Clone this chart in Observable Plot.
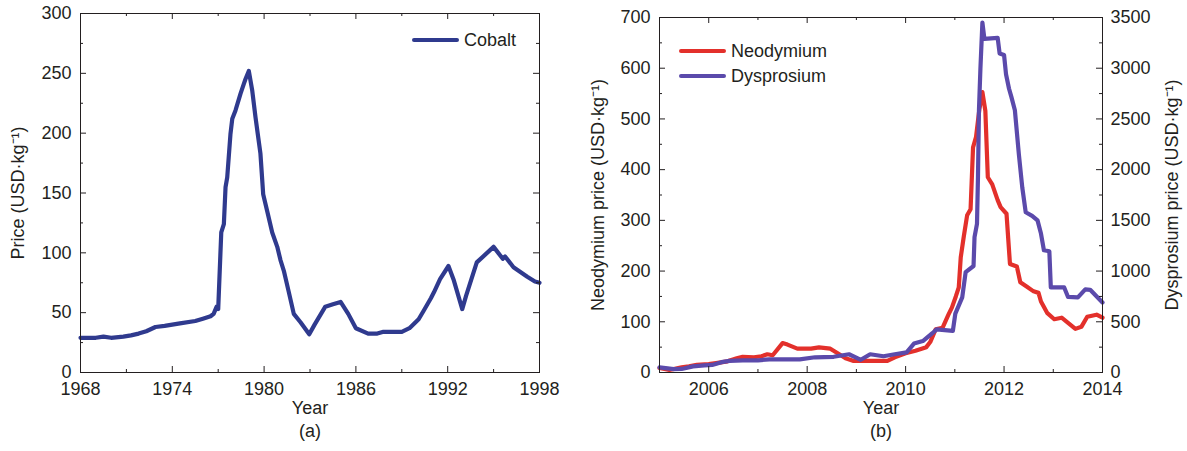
<!DOCTYPE html>
<html><head><meta charset="utf-8">
<script src="https://cdn.jsdelivr.net/npm/d3@7"></script>
<script src="https://cdn.jsdelivr.net/npm/@observablehq/plot@0.6"></script>
<style>
body{margin:0;background:#fff;}
#wrap{position:relative;width:1187px;height:451px;overflow:hidden;font-family:"Liberation Sans",Arial,Helvetica,sans-serif;color:#231f20;}
.panel{position:absolute;top:0;}
.leg{position:absolute;display:flex;align-items:center;font-size:18px;line-height:20px;white-space:nowrap;}
.leg .sw{display:inline-block;width:47px;height:4px;margin-right:5px;border-radius:2px;}
</style></head><body><div id="wrap"></div>
<script>
// ---- Panel (a): Cobalt ----
const cobaltYear  = [1968.0,1969.0,1969.5,1970.0,1970.8,1971.3,1971.8,1972.3,1972.9,1973.5,1974.5,1975.5,1976.0,1976.5,1976.7,1976.9,1977.0,1977.2,1977.37,1977.48,1977.59,1977.8,1977.92,1978.13,1978.46,1978.67,1978.78,1979.0,1979.22,1979.44,1979.76,1979.94,1980.2,1980.53,1980.86,1981.07,1981.29,1981.6,1981.94,1982.38,1982.95,1983.3,1984.0,1984.5,1985.0,1985.5,1986.0,1986.8,1987.4,1987.8,1989.0,1989.5,1990.1,1990.4,1990.9,1991.1,1991.5,1992.05,1992.4,1992.95,1993.2,1993.9,1995.0,1995.6,1995.75,1996.3,1997.2,1997.7,1998.0];
const cobaltPrice = [29,29,30,29,30,31,32.5,34.5,38,39,41,43,45,47,49,55,53,117,124,155,163,199,212,219,233,241,245,252,236,213,183,149,135,117,105,94,85,68,49,42,32,40,55,57,59,49,37,32.5,32.5,34,34,37,44.5,51,62,67,78,89,77,53,64,92,105,95,97,88,80,76,75];
const xTicksA = [1968,1974,1980,1986,1992,1998];
const xMinorA = [1971,1977,1983,1989,1995];
const yTicksA = [0,50,100,150,200,250,300];
const yMinorA = [25,75,125,175,225,275];

// ---- Panel (b): Neodymium & Dysprosium ----
const ndYear  = [2005.0,2005.2,2005.45,2005.6,2005.76,2006.0,2006.15,2006.38,2006.57,2006.69,2006.92,2007.07,2007.19,2007.3,2007.5,2007.6,2007.8,2008.08,2008.24,2008.47,2008.62,2008.78,2008.93,2009.63,2009.78,2010.0,2010.2,2010.42,2010.5,2010.61,2010.75,2010.87,2010.94,2011.02,2011.08,2011.12,2011.18,2011.25,2011.32,2011.37,2011.43,2011.5,2011.56,2011.62,2011.67,2011.76,2011.87,2011.93,2012.05,2012.12,2012.26,2012.33,2012.45,2012.6,2012.7,2012.75,2012.88,2013.02,2013.17,2013.3,2013.45,2013.57,2013.69,2013.88,2014.0];
const ndPrice = [9,5,10,12,15,16.5,18.5,22,28,31,30,32,36,34,58,55,47,47,49.5,47,38,28,23,23,30,38,43,50,60,85,88,114,128,150,168,227,267,310,322,444,464,520,553,516,385,371,340,326,313,214,209,178,170,160,157,140,117,105,108,98,86,90,110,114,108];
const dyYear  = [2005.0,2005.29,2005.45,2005.68,2005.91,2006.07,2006.26,2006.42,2006.69,2007.0,2007.23,2007.85,2008.16,2008.54,2008.85,2009.09,2009.28,2009.55,2009.78,2010.02,2010.17,2010.35,2010.55,2010.63,2010.96,2011.01,2011.15,2011.22,2011.38,2011.4,2011.45,2011.47,2011.49,2011.52,2011.56,2011.6,2011.87,2011.91,2012.0,2012.04,2012.1,2012.15,2012.22,2012.3,2012.37,2012.44,2012.57,2012.68,2012.75,2012.81,2012.92,2012.95,2013.22,2013.3,2013.5,2013.65,2013.75,2014.0];
const dyPrice = [50,33,35,60,70,75,102,115,120,120,130,130,150,155,180,125,180,160,180,198,285,310,390,425,410,580,740,990,1050,1335,1465,1925,2585,3000,3450,3290,3300,3145,3130,2940,2800,2715,2585,2155,1825,1580,1545,1500,1370,1205,1195,840,840,745,740,820,815,690];
const xTicksB = [2006,2008,2010,2012,2014];
const xMinorB = [2005,2007,2009,2011,2013];
const yTicksB = [0,100,200,300,400,500,600,700];       // left axis (Nd)
const yMinorB = [50,150,250,350,450,550,650];
const dyRatio = 5;                                      // right axis = left × 5 (0–3500)

const ink = "#231f20";
const cCo = "#2f3a8e", cNd = "#e3302b", cDy = "#5b4aab";
const FONT = "Liberation Sans, Arial, Helvetica, sans-serif";
const fmt = d => String(d);

function frameTicks(xMaj, xMin, yMaj, yMin, pw, ph) {
  const M = 6, m = 3;
  return [
    Plot.tickX(xMaj, {x: d => d, insetTop: ph - M, stroke: ink}),
    Plot.tickX(xMaj, {x: d => d, insetBottom: ph - M, stroke: ink}),
    Plot.tickX(xMin, {x: d => d, insetTop: ph - m, stroke: ink}),
    Plot.tickX(xMin, {x: d => d, insetBottom: ph - m, stroke: ink}),
    Plot.tickY(yMaj, {y: d => d, insetRight: pw - M, stroke: ink}),
    Plot.tickY(yMaj, {y: d => d, insetLeft: pw - M, stroke: ink}),
    Plot.tickY(yMin, {y: d => d, insetRight: pw - m, stroke: ink}),
    Plot.tickY(yMin, {y: d => d, insetLeft: pw - m, stroke: ink}),
    Plot.frame({stroke: ink, strokeWidth: 1})
  ];
}

const wrap = document.getElementById("wrap");

// Panel (a)
{
  const W = 580, H = 451, mL = 80, mR = 41, mT = 13, mB = 79;
  const pw = W - mL - mR, ph = H - mT - mB;
  const cobalt = cobaltYear.map((y, i) => ({year: y, price: cobaltPrice[i]}));
  const p = Plot.plot({
    width: W, height: H, marginLeft: mL, marginRight: mR, marginTop: mT, marginBottom: mB,
    style: {fontSize: "18px", fontFamily: FONT, color: ink, background: "white", overflow: "visible"},
    x: {domain: [1968, 1998]},
    y: {domain: [0, 300]},
    marks: [
      Plot.line(cobalt, {x: "year", y: "price", stroke: cCo, strokeWidth: 4.2, strokeLinejoin: "round"}),
      ...frameTicks(xTicksA, xMinorA, yTicksA, yMinorA, pw, ph),
      Plot.axisX(xTicksA, {tickSize: 0, tickPadding: 10, label: null, fontSize: 18, tickFormat: fmt}),
      Plot.axisY(yTicksA, {tickSize: 0, tickPadding: 9, label: null, fontSize: 18, tickFormat: fmt}),
      Plot.text(["Year"], {frameAnchor: "bottom", dy: 41, text: d => d, fontSize: 18, fill: ink, textAnchor: "middle"}),
      Plot.text(["(a)"], {frameAnchor: "bottom", dy: 64, text: d => d, fontSize: 18, fill: ink, textAnchor: "middle"}),
      Plot.text(["Price (USD·kg⁻¹)"], {frameAnchor: "left", dx: -62, rotate: -90, text: d => d, fontSize: 18, fill: ink, textAnchor: "middle"})
    ]
  });
  p.classList.add("panel"); p.style.left = "0px";
  wrap.appendChild(p);
}

// Panel (b)
{
  const W = 607, H = 451, mL = 79, mR = 85, mT = 17, mB = 79;
  const pw = W - mL - mR, ph = H - mT - mB;
  const nd = ndYear.map((y, i) => ({year: y, price: ndPrice[i]}));
  const dy = dyYear.map((y, i) => ({year: y, price: dyPrice[i] / dyRatio}));
  const p = Plot.plot({
    width: W, height: H, marginLeft: mL, marginRight: mR, marginTop: mT, marginBottom: mB,
    style: {fontSize: "18px", fontFamily: FONT, color: ink, background: "white", overflow: "visible"},
    x: {domain: [2005, 2014]},
    y: {domain: [0, 700]},
    marks: [
      Plot.line(nd, {x: "year", y: "price", stroke: cNd, strokeWidth: 4.2, strokeLinejoin: "round"}),
      Plot.line(dy, {x: "year", y: "price", stroke: cDy, strokeWidth: 4.2, strokeLinejoin: "round"}),
      ...frameTicks(xTicksB, xMinorB, yTicksB, yMinorB, pw, ph),
      Plot.axisX(xTicksB, {tickSize: 0, tickPadding: 10, label: null, fontSize: 18, tickFormat: fmt}),
      Plot.axisY(yTicksB, {anchor: "left", tickSize: 0, tickPadding: 9, label: null, fontSize: 18, tickFormat: fmt}),
      Plot.axisY(yTicksB, {anchor: "right", tickSize: 0, tickPadding: 8, label: null, fontSize: 18, tickFormat: d => String(d * dyRatio)}),
      Plot.text(["Year"], {frameAnchor: "bottom", dy: 41, text: d => d, fontSize: 18, fill: ink, textAnchor: "middle"}),
      Plot.text(["(b)"], {frameAnchor: "bottom", dy: 64, text: d => d, fontSize: 18, fill: ink, textAnchor: "middle"}),
      Plot.text(["Neodymium price (USD·kg⁻¹)"], {frameAnchor: "left", dx: -61, rotate: -90, text: d => d, fontSize: 18, fill: ink, textAnchor: "middle"}),
      Plot.text(["Dysprosium price (USD·kg⁻¹)"], {frameAnchor: "right", dx: 70, rotate: -90, text: d => d, fontSize: 18, fill: ink, textAnchor: "middle"})
    ]
  });
  p.classList.add("panel"); p.style.left = "580px";
  wrap.appendChild(p);
}

// Legends
function legend(left, top, color, label) {
  const d = document.createElement("div");
  d.className = "leg";
  d.style.left = left + "px"; d.style.top = top + "px";
  d.innerHTML = `<span class="sw" style="background:${color}"></span><span>${label}</span>`;
  wrap.appendChild(d);
}
legend(412, 30, cCo, "Cobalt");
legend(679, 41, cNd, "Neodymium");
legend(679, 66, cDy, "Dysprosium");
</script>
</body></html>
